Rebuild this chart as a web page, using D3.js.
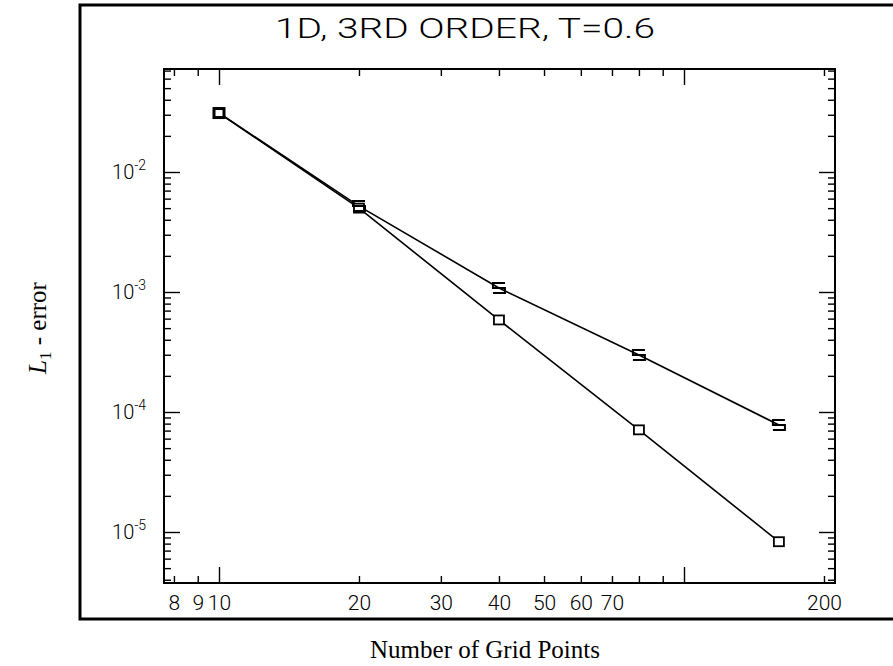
<!DOCTYPE html>
<html lang="en">
<head>
<meta charset="UTF-8">
<title>1D, 3RD ORDER, T=0.6</title>
<script src="https://d3js.org/d3.v7.min.js"></script>
<style>
    body { margin: 0; background: #fff; }
    .plotter { font-family: Roboto, "DejaVu Sans", sans-serif; font-weight: 300; fill: #000; }
    .serif { font-family: "Liberation Serif", "DejaVu Serif", serif; fill: #000; }
    .tick line { stroke: #000; stroke-width: 1.4; }
</style>
</head>
<body>
<svg width="893" height="666" id="svg1"></svg>
<script>
    // data
    var gridPoints = [10, 20, 40, 80, 160];
    var errSquares = [0.031, 0.0050, 5.85e-4, 7.1e-5, 8.3e-6];
    var errOther = [0.031, 0.0052, 1.08e-3, 2.98e-4, 7.8e-5];
    var xTickLabels = [8, 9, 10, 20, 30, 40, 50, 60, 70, 200];
    var yTickExps = [-2, -3, -4, -5];

    var svg = d3.select("#svg1");
    var plotLeft = 164, plotTop = 69, width = 671, height = 514;

    // outer frame (only left, top, bottom show)
    svg.append("path")
        .attr("d", "M900,5 H80 V619 H900")
        .attr("fill", "none")
        .attr("stroke", "#000")
        .attr("stroke-width", 3);

    svg.append("text")
        .attr("class", "plotter")
        .attr("x", 465)
        .attr("y", 38)
        .attr("text-anchor", "middle")
        .attr("font-size", "28px")
        .attr("textLength", 380)
        .attr("lengthAdjust", "spacingAndGlyphs")
        .text("1D, 3RD ORDER, T=0.6");

    var x = d3.scaleLog().domain([10, 100]).range([55, 520]);
    var y = d3.scaleLog().domain([1e-5, 1e-2]).range([463, 103]);

    var g = svg.append("g").attr("transform", "translate(" + plotLeft + "," + plotTop + ")");

    // minor / major tick values inside the frame
    var xMin = x.invert(0), xMax = x.invert(width);
    var yMin = y.invert(height), yMax = y.invert(0);
    var xMinor = [], xMajor = [], yMinor = [], yMajor = [];
    for (var e = 0; e <= 3; e++) {
        for (var m = 1; m <= 9; m++) {
            var v = m * Math.pow(10, e);
            if (v < xMin || v > xMax) continue;
            (m === 1 ? xMajor : xMinor).push(v);
        }
    }
    for (var e = -7; e <= 0; e++) {
        for (var m = 1; m <= 9; m++) {
            var v = m * Math.pow(10, e);
            if (v < yMin || v > yMax) continue;
            (m === 1 ? yMajor : yMinor).push(v);
        }
    }

    function ticks(axis, values, size, tx, ty) {
        var a = g.append("g")
            .attr("transform", "translate(" + tx + "," + ty + ")")
            .call(axis.tickValues(values).tickSize(size).tickFormat(""));
        a.select(".domain").remove();
        return a;
    }
    ticks(d3.axisBottom(x), xMinor, -7, 0, height);
    ticks(d3.axisBottom(x), xMajor, -16, 0, height);
    ticks(d3.axisTop(x), xMinor, -7, 0, 0);
    ticks(d3.axisTop(x), xMajor, -16, 0, 0);
    ticks(d3.axisLeft(y), yMinor, -7, 0, 0);
    ticks(d3.axisLeft(y), yMajor, -16, 0, 0);
    ticks(d3.axisRight(y), yMinor, -7, width, 0);
    ticks(d3.axisRight(y), yMajor, -16, width, 0);

    // plot frame
    g.append("rect")
        .attr("width", width)
        .attr("height", height)
        .attr("fill", "none")
        .attr("stroke", "#000")
        .attr("stroke-width", 2);

    // x tick labels
    var xl = g.append("g")
        .attr("transform", "translate(0," + height + ")")
        .call(d3.axisBottom(x).tickValues(xTickLabels).tickSize(0).tickPadding(12)
            .tickFormat(function (d) { return d; }));
    xl.select(".domain").remove();
    xl.attr("font-family", null).attr("font-size", null);
    xl.selectAll("text")
        .attr("class", "plotter")
        .attr("font-size", "21px");

    // y tick labels 10^n
    g.selectAll(".ylab")
        .data(yTickExps)
        .enter().append("text")
        .attr("class", "plotter ylab")
        .attr("x", -18)
        .attr("y", function (d) { return y(Math.pow(10, d)) + 7; })
        .attr("text-anchor", "end")
        .attr("font-size", "20px")
        .each(function (d) {
            var t = d3.select(this);
            t.append("tspan").text("10");
            t.append("tspan").attr("dy", -9).attr("font-size", "14px").text(d);
        });

    // lines
    var line = d3.line()
        .x(function (d, i) { return x(gridPoints[i]); })
        .y(function (d) { return y(d); });

    g.append("path").datum(errOther)
        .attr("d", line).attr("fill", "none").attr("stroke", "#000").attr("stroke-width", 1.6);
    g.append("path").datum(errSquares)
        .attr("d", line).attr("fill", "none").attr("stroke", "#000").attr("stroke-width", 1.6);

    // markers
    g.selectAll(".sq")
        .data(errSquares)
        .enter().append("rect")
        .attr("class", "sq")
        .attr("x", function (d, i) { return x(gridPoints[i]) - 5; })
        .attr("y", function (d) { return y(d) - 4.5; })
        .attr("width", 10)
        .attr("height", 9)
        .attr("fill", "#fff")
        .attr("stroke", "#000")
        .attr("stroke-width", function (d, i) { return i === 0 ? 3 : 1.8; });

    g.selectAll(".sm")
        .data(errOther.slice(1))
        .enter().append("path")
        .attr("class", "sm")
        .attr("transform", function (d, i) {
            return "translate(" + x(gridPoints[i + 1]) + "," + y(d) + ")";
        })
        .attr("d", "M6,-5 H-6 V0 H6 V5 H-6")
        .attr("fill", "none")
        .attr("stroke", "#000")
        .attr("stroke-width", 2);

    // axis titles
    svg.append("text")
        .attr("class", "serif")
        .attr("x", 485)
        .attr("y", 658)
        .attr("text-anchor", "middle")
        .attr("font-size", "25px")
        .text("Number of Grid Points");

    var yt = svg.append("text")
        .attr("class", "serif")
        .attr("transform", "translate(46,328) rotate(-90)")
        .attr("text-anchor", "middle")
        .attr("font-size", "25px");
    yt.append("tspan").attr("font-style", "italic").text("L");
    yt.append("tspan").attr("dy", 5).attr("font-size", "17px").text("1");
    yt.append("tspan").attr("dy", -5).text(" - error");
</script>
</body>
</html>
